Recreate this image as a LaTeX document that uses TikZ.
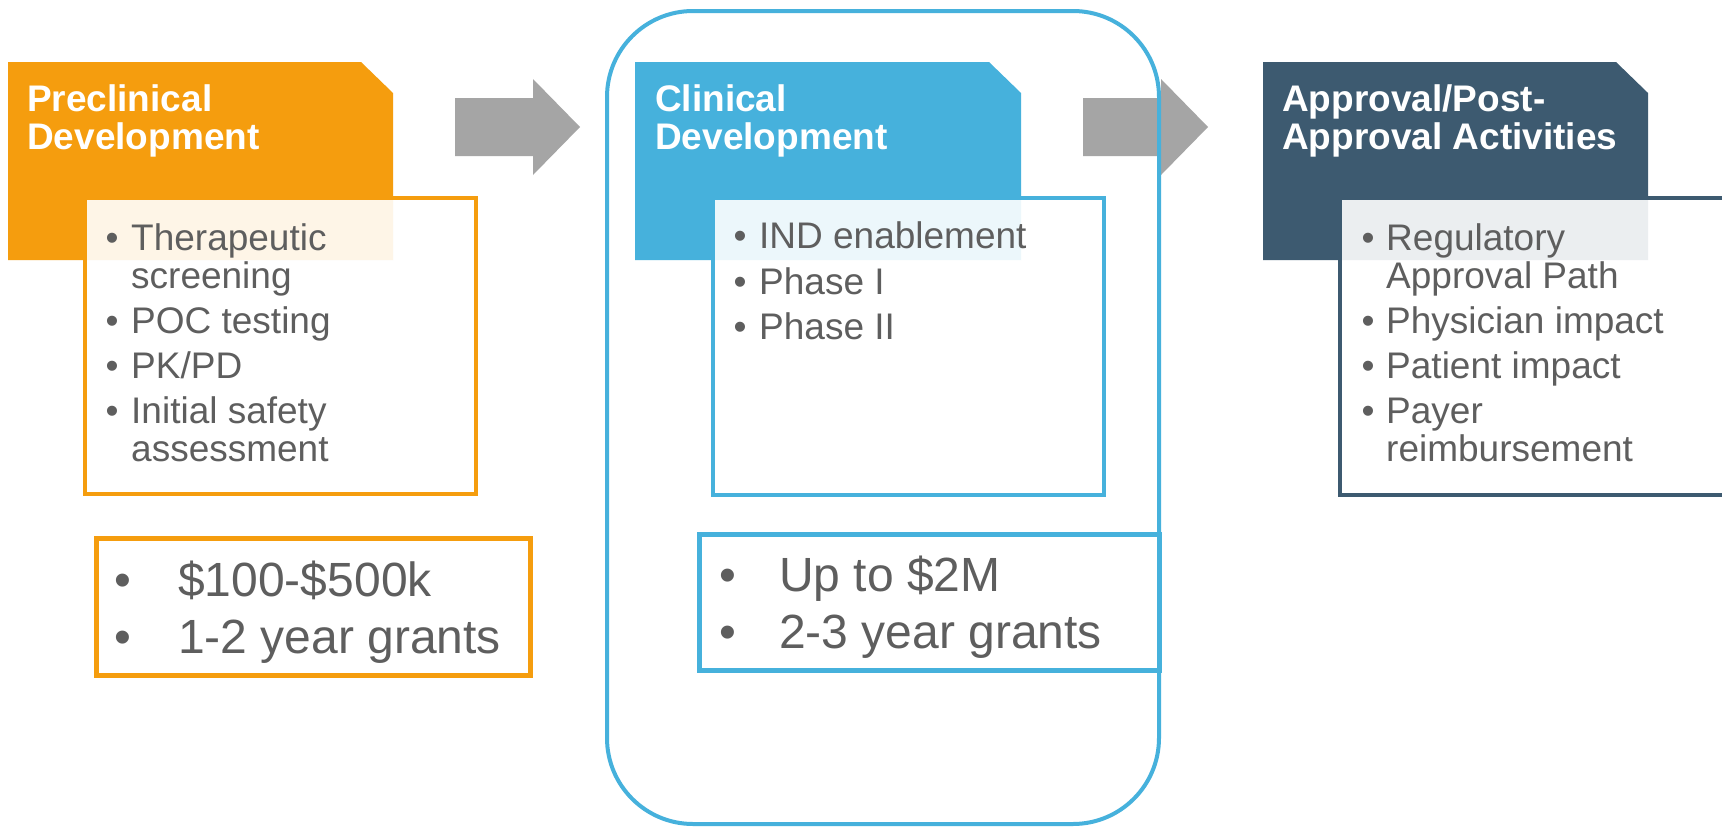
\documentclass[tikz,border=0pt]{standalone}
\usepackage{fontspec}
\setmainfont{Liberation Sans}
\definecolor{orng}{HTML}{F59D0E}
\definecolor{blu}{HTML}{46B1DC}
\definecolor{darkb}{HTML}{3D5A70}
\definecolor{txtg}{HTML}{5E5E5E}
\definecolor{arrg}{HTML}{A5A5A5}
\tikzset{
 hdr/.style={font=\fontsize{37}{38}\selectfont\bfseries, text=white, anchor=base west, inner sep=0pt},
 itm/.style={font=\fontsize{37}{38}\selectfont, text=txtg, anchor=base west, inner sep=0pt},
 bul/.style={font=\fontsize{37}{38}\selectfont, text=txtg, anchor=base, inner sep=0pt},
 big/.style={font=\fontsize{48}{50}\selectfont, text=txtg, anchor=base west, inner sep=0pt},
 bigbul/.style={font=\fontsize{48}{50}\selectfont, text=txtg, anchor=base, inner sep=0pt},
 lbox/.style={line width=4pt, fill=white, fill opacity=0.9, draw opacity=1},
 mbox/.style={line width=5pt, fill=white},
 grayarrow/.style={fill=arrg, draw=none}
}
\begin{document}
\begin{tikzpicture}[x=1pt,y=-1pt]
\clip (0,0) rectangle (1722,827);
\fill[white] (0,0) rectangle (1722,827);
% arrows
\fill[grayarrow] (455,98) -- (533,98) -- (533,79) -- (580,127) -- (533,175) -- (533,156) -- (455,156) -- cycle;
\fill[grayarrow] (1083,98) -- (1161,98) -- (1161,79) -- (1208,127) -- (1161,175) -- (1161,156) -- (1083,156) -- cycle;
% headers
\fill[orng] (8,62) -- (361,62) -- (393,93) -- (393,260) -- (8,260) -- cycle;
\fill[blu] (635,62) -- (989,62) -- (1021,93) -- (1021,260) -- (635,260) -- cycle;
\fill[darkb] (1263,62) -- (1616,62) -- (1648,93) -- (1648,260) -- (1263,260) -- cycle;
% list boxes
\draw[lbox, draw=orng] (85,198) rectangle (476,494);
\draw[lbox, draw=blu] (713,198) rectangle (1104,495);
\draw[lbox, draw=darkb] (1340,198) rectangle (1745,495);
% money boxes
\draw[mbox, draw=orng] (96,538) rectangle (530,675);
\draw[mbox, draw=blu] (699,534) rectangle (1159,670);
% clinical frame
\draw[blu, line width=4pt, rounded corners=86pt] (607,11) rectangle (1159,824);
% header texts
\node[hdr] (h1a) at (27,111) {Preclinical};
\node[hdr] (h1b) at (27,149) {Development};
\node[hdr] (h2a) at (655,111) {Clinical};
\node[hdr] (h2b) at (655,149) {Development};
\node[hdr] (h3a) at (1282,111) {Approval/Post-};
\node[hdr] (h3b) at (1282,149) {Approval Activities};
% preclinical items
\node[bul] (p1b) at (112,250) {•};
\node[itm] (p1) at (131,250) {Therapeutic};
\node[itm] (p1c) at (131,288) {screening};
\node[bul] (p2b) at (112,333) {•};
\node[itm] (p2) at (131,333) {POC testing};
\node[bul] (p3b) at (112,378) {•};
\node[itm] (p3) at (131,378) {PK/PD};
\node[bul] (p4b) at (112,423) {•};
\node[itm] (p4) at (131,423) {Initial safety};
\node[itm] (p4c) at (131,461) {assessment};
% clinical items
\node[bul] (c1b) at (740,248) {•};
\node[itm] (c1) at (759,248) {IND enablement};
\node[bul] (c2b) at (740,294) {•};
\node[itm] (c2) at (759,294) {Phase I};
\node[bul] (c3b) at (740,339) {•};
\node[itm] (c3) at (759,339) {Phase II};
% approval items
\node[bul] (a1b) at (1368,250) {•};
\node[itm] (a1) at (1386,250) {Regulatory};
\node[itm] (a1c) at (1386,288) {Approval Path};
\node[bul] (a2b) at (1368,333) {•};
\node[itm] (a2) at (1386,333) {Physician impact};
\node[bul] (a3b) at (1368,378) {•};
\node[itm] (a3) at (1386,378) {Patient impact};
\node[bul] (a4b) at (1368,423) {•};
\node[itm] (a4) at (1386,423) {Payer};
\node[itm] (a4c) at (1386,461) {reimbursement};
% money texts
\node[bigbul] (m1b) at (123,596) {•};
\node[big] (m1) at (178,596) {\$100-\$500k};
\node[bigbul] (m2b) at (123,653) {•};
\node[big] (m2) at (178,653) {1-2 year grants};
\node[bigbul] (n1b) at (728,591) {•};
\node[big] (n1) at (779,591) {Up to \$2M};
\node[bigbul] (n2b) at (728,648) {•};
\node[big] (n2) at (779,648) {2-3 year grants};
\end{tikzpicture}
\end{document}
